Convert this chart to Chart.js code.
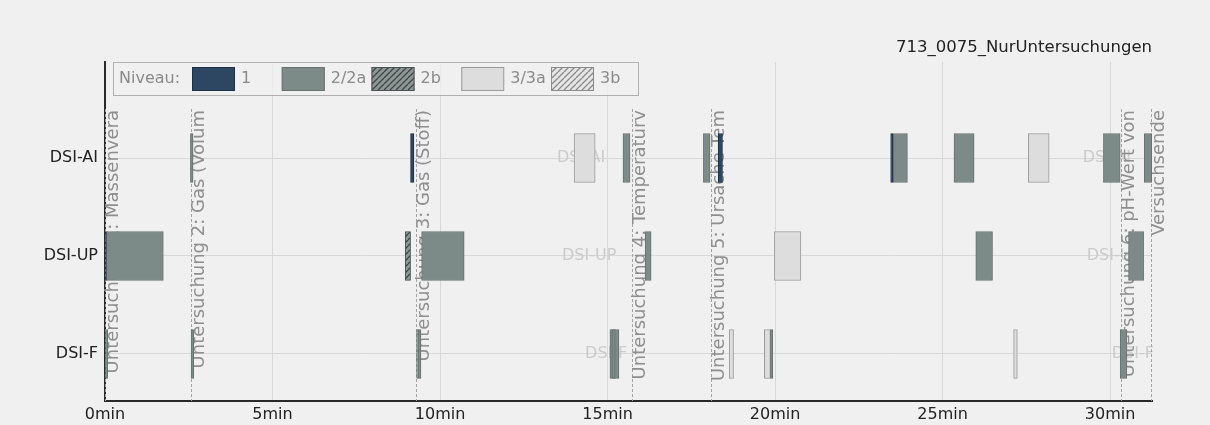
<!DOCTYPE html>
<html>
<head>
<meta charset="utf-8">
<script src="https://cdn.jsdelivr.net/npm/chart.js@4"></script>
<style>
  html, body { margin: 0; padding: 0; background: #f0f0f0; }
  #wrap { width: 1210px; height: 425px; }
</style>
</head>
<body>
<div id="wrap"><canvas id="timeline" width="1210" height="425"></canvas></div>
<script>
// ---- data ----
const chartTitle = '713_0075_NurUntersuchungen';
const categories = ['DSI-AI', 'DSI-UP', 'DSI-F'];
const levelNames = ['1', '2/2a', '2b', '3/3a', '3b'];
const xTicks = [0, 5, 10, 15, 20, 25, 30];
const xMax = 31.25;

// intervals per level: [row, start minute, end minute]
const level1 = [
  ['DSI-AI', 9.12, 9.22],
  ['DSI-AI', 18.30, 18.43],
  ['DSI-AI', 23.45, 23.52],
  ['DSI-UP', 0.00, 0.04]
];
const level2 = [
  ['DSI-AI', 2.55, 2.63],
  ['DSI-AI', 15.46, 15.67],
  ['DSI-AI', 17.86, 18.06],
  ['DSI-AI', 23.52, 23.95],
  ['DSI-AI', 25.34, 25.94],
  ['DSI-AI', 29.80, 30.30],
  ['DSI-AI', 31.02, 31.24],
  ['DSI-UP', 0.04, 1.74],
  ['DSI-UP', 9.45, 10.72],
  ['DSI-UP', 16.12, 16.30],
  ['DSI-UP', 25.99, 26.49],
  ['DSI-UP', 30.55, 31.00],
  ['DSI-F', 0.00, 0.08],
  ['DSI-F', 2.57, 2.65],
  ['DSI-F', 9.30, 9.36],
  ['DSI-F', 9.36, 9.43],
  ['DSI-F', 15.07, 15.34],
  ['DSI-F', 15.13, 15.23],
  ['DSI-F', 19.86, 19.93],
  ['DSI-F', 30.30, 30.50]
];
const level2b = [
  ['DSI-UP', 8.96, 9.12]
];
const level3 = [
  ['DSI-AI', 14.00, 14.63],
  ['DSI-AI', 27.56, 28.18],
  ['DSI-UP', 19.98, 20.77],
  ['DSI-F', 18.63, 18.76],
  ['DSI-F', 19.68, 19.86],
  ['DSI-F', 27.12, 27.23]
];
const level3b = [];

// investigation markers (minute) and their captions
const markerTimes = [0, 2.57, 9.28, 15.72, 18.09, 30.33, 31.22];
const markerLabels = [
  'Untersuchung 1: Massenvera',
  'Untersuchung 2: Gas (Volum',
  'Untersuchung 3: Gas (Stoff)',
  'Untersuchung 4: Temperaturv',
  'Untersuchung 5: Ursache Tem',
  'Untersuchung 6: pH-Wert von',
  'Versuchsende'
];

// faint repeated row names (minute where each starts), one list per row
const rowEchoTimes = [
  [13.49, 29.18],
  [13.64, 29.30],
  [14.33, 30.05]
];

// ---- helpers ----
const FONT = '"DejaVu Sans", "Liberation Sans", sans-serif';

function hatch(bg, fg) {
  const s = 6;
  const c = document.createElement('canvas');
  c.width = s; c.height = s;
  const g = c.getContext('2d');
  g.fillStyle = bg;
  g.fillRect(0, 0, s, s);
  g.strokeStyle = fg;
  g.lineWidth = 1.3;
  for (let k = -1; k <= 1; k++) {
    g.beginPath();
    g.moveTo(k * s, s);
    g.lineTo(k * s + s, 0);
    g.stroke();
  }
  return g.createPattern(c, 'repeat');
}

const toBars = list => list.map(([row, s, e]) => ({ x: [s, e], y: categories.indexOf(row) }));

const levelData = [level1, level2, level2b, level3, level3b];
const levelStyles = [
  { bg: '#2d4763', border: '#1d3048' },
  { bg: '#7c8a88', border: '#66736f' },
  { bg: hatch('#8d9795', '#3e4646'), border: '#4a5352' },
  { bg: '#dddddd', border: '#9a9a9a' },
  { bg: hatch('#e6e6e6', '#8a8a8a'), border: '#8a8a8a' }
];

const datasets = levelNames.map((name, i) => ({
  label: name,
  data: toBars(levelData[i]),
  backgroundColor: levelStyles[i].bg,
  borderColor: levelStyles[i].border,
  borderWidth: 1,
  borderSkipped: false,
  grouped: false,
  barThickness: 49
}));

// ---- plugins ----
const background = {
  id: 'background',
  beforeDraw(chart) {
    const { ctx, width, height } = chart;
    ctx.save();
    ctx.fillStyle = '#f0f0f0';
    ctx.fillRect(0, 0, width, height);
    ctx.restore();
  }
};

const markers = {
  id: 'markers',
  beforeDatasetsDraw(chart) {
    const { ctx, chartArea: a, scales: { x, y } } = chart;
    ctx.save();
    // faint row names inside the rows
    ctx.font = '16px ' + FONT;
    ctx.fillStyle = '#cbcbcb';
    ctx.textAlign = 'left';
    ctx.textBaseline = 'middle';
    rowEchoTimes.forEach((times, i) => {
      times.forEach(t => ctx.fillText(categories[i], x.getPixelForValue(t), y.getPixelForValue(i)));
    });
    // dashed investigation lines with vertical captions
    const top = y.getPixelForValue(-0.5);
    markerTimes.forEach((t, i) => {
      const px = Math.round(x.getPixelForValue(t)) + 0.5;
      ctx.save();
      ctx.setLineDash([3, 2]);
      ctx.strokeStyle = '#a3a3a3';
      ctx.lineWidth = 1;
      ctx.beginPath();
      ctx.moveTo(px, top);
      ctx.lineTo(px, a.bottom);
      ctx.stroke();
      ctx.restore();

      ctx.save();
      ctx.translate(px - 1.5, top + 1);
      ctx.rotate(-Math.PI / 2);
      ctx.font = '18px ' + FONT;
      ctx.fillStyle = '#8e8e8e';
      ctx.textAlign = 'right';
      ctx.textBaseline = 'top';
      ctx.fillText(markerLabels[i], 0, 0);
      ctx.restore();
    });
    ctx.restore();
  }
};

const levelLegend = {
  id: 'levelLegend',
  afterDraw(chart) {
    const { ctx, chartArea: a } = chart;
    const left = a.left + 8, top = a.top, w = 526, h = 34;
    ctx.save();
    ctx.fillStyle = 'rgba(240,240,240,0.8)';
    ctx.fillRect(left, top, w, h);
    ctx.strokeStyle = '#b0b0b0';
    ctx.lineWidth = 1;
    ctx.strokeRect(left + 0.5, top + 0.5, w - 1, h - 1);

    ctx.font = '16px ' + FONT;
    ctx.fillStyle = '#8a8a8a';
    ctx.textAlign = 'left';
    ctx.textBaseline = 'middle';
    const cy = top + h / 2;
    ctx.fillText('Niveau:', left + 6, cy);

    const slot = 89.75, pw = 43, ph = 24;
    chart.data.datasets.forEach((ds, i) => {
      const px = left + 79 + i * slot;
      ctx.fillStyle = ds.backgroundColor;
      ctx.fillRect(px, top + 5, pw, ph);
      ctx.strokeStyle = ds.borderColor;
      ctx.strokeRect(px + 0.5, top + 5.5, pw - 1, ph - 1);
      ctx.fillStyle = '#8a8a8a';
      ctx.fillText(ds.label, px + pw + 6, cy);
    });
    ctx.restore();
  }
};

// ---- chart ----
new Chart(document.getElementById('timeline'), {
  type: 'bar',
  data: { datasets },
  options: {
    indexAxis: 'y',
    responsive: false,
    animation: false,
    layout: { padding: { left: 0, right: 58, top: 0, bottom: 0 } },
    plugins: {
      legend: { display: false },
      tooltip: { enabled: false },
      title: {
        display: true,
        text: chartTitle,
        align: 'end',
        color: '#222',
        font: { family: FONT, size: 16.5, weight: 'normal' },
        padding: { top: 38, bottom: 4.2 }
      }
    },
    scales: {
      x: {
        type: 'linear',
        min: 0,
        max: xMax,
        offset: false,
        afterBuildTicks: s => { s.ticks = xTicks.map(v => ({ value: v })); },
        afterFit: s => { s.height = 24; },
        grid: { color: '#d8d8d8', lineWidth: 1, drawTicks: false, offset: false },
        border: { display: true, color: '#2a2a2a', width: 2 },
        ticks: {
          color: '#222',
          font: { family: FONT, size: 16 },
          padding: 4,
          autoSkip: false,
          maxRotation: 0,
          callback: v => v + 'min'
        }
      },
      y: {
        type: 'linear',
        min: -0.98,
        max: 2.48,
        reverse: true,
        offset: false,
        afterBuildTicks: s => { s.ticks = categories.map((_, i) => ({ value: i })); },
        afterFit: s => { s.width = 105; },
        grid: { color: '#d8d8d8', lineWidth: 1, drawTicks: false, offset: false },
        border: { display: true, color: '#2a2a2a', width: 2 },
        ticks: {
          color: '#222',
          font: { family: FONT, size: 16 },
          padding: 7,
          autoSkip: false,
          callback: v => categories[v]
        }
      }
    }
  },
  plugins: [background, markers, levelLegend]
});
</script>
</body>
</html>
